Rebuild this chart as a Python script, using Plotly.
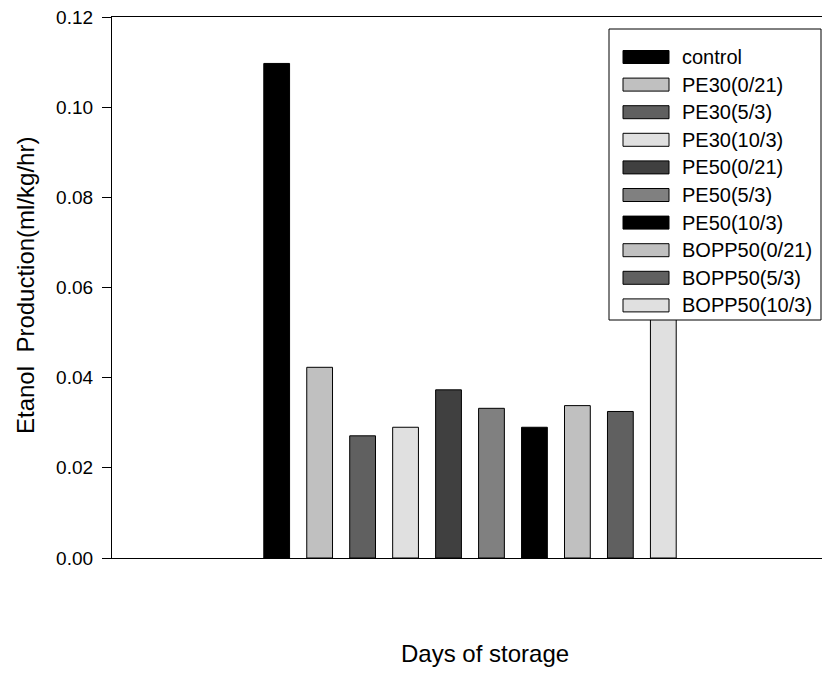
import plotly.graph_objects as go

# Ethanol production per packaging treatment (single storage group)
treatments = ["control", "PE30(0/21)", "PE30(5/3)", "PE30(10/3)", "PE50(0/21)",
              "PE50(5/3)", "PE50(10/3)", "BOPP50(0/21)", "BOPP50(5/3)", "BOPP50(10/3)"]
ethanol = [0.1097, 0.0423, 0.0271, 0.0290, 0.0373, 0.0332, 0.0290, 0.0338, 0.0325, 0.0620]
fills = ["#000000", "#c0c0c0", "#606060", "#e0e0e0", "#404040",
         "#808080", "#000000", "#c0c0c0", "#606060", "#e0e0e0"]
group = ["storage"]

y_ticks = [0.00, 0.02, 0.04, 0.06, 0.08, 0.10, 0.12]

FONT = "Arial, Liberation Sans, sans-serif"
W, H = 822, 673
ML, MR, MT, MB = 112, 0, 17, 115
PW, PH = W - ML - MR, H - MT - MB


def px_x(p):
    return (p - ML) / PW


def px_y(p):
    return (H - MB - p) / PH


fig = go.Figure()
for name, val, col in zip(treatments, ethanol, fills):
    fig.add_trace(go.Bar(
        x=group, y=[val], name=name,
        marker=dict(color=col, line=dict(color="#000000", width=1)),
        showlegend=False,
    ))

# Boxed key in the upper right, drawn over the bars
fig.add_shape(type="rect", xref="paper", yref="paper",
              x0=px_x(609), x1=px_x(821), y0=px_y(320), y1=px_y(29),
              fillcolor="white", line=dict(color="#000000", width=1), layer="above")
row0, row_step, sw_h = 57.0, 27.6, 13
for i, (name, col) in enumerate(zip(treatments, fills)):
    cy = row0 + i * row_step
    fig.add_shape(type="rect", xref="paper", yref="paper",
                  x0=px_x(623), x1=px_x(669), y0=px_y(cy + sw_h / 2), y1=px_y(cy - sw_h / 2),
                  fillcolor=col, line=dict(color="#000000", width=1), layer="above")
    fig.add_annotation(xref="paper", yref="paper", x=px_x(680), y=px_y(cy),
                       text=name, showarrow=False, xanchor="left", yanchor="middle",
                       font=dict(family=FONT, size=20, color="#000000"))

# Axis titles
fig.add_annotation(xref="paper", yref="paper", x=px_x(485), y=px_y(653),
                   text="Days of storage", showarrow=False, xanchor="center", yanchor="middle",
                   font=dict(family=FONT, size=24, color="#000000"))
fig.add_annotation(xref="paper", yref="paper", x=px_x(25), y=px_y(286),
                   text="Etanol  Production(ml/kg/hr)", showarrow=False, textangle=-90,
                   xanchor="center", yanchor="middle",
                   font=dict(family=FONT, size=24, color="#000000"))

fig.update_layout(
    width=W, height=H,
    margin=dict(l=ML, r=MR, t=MT, b=MB, pad=0),
    paper_bgcolor="white", plot_bgcolor="white",
    barmode="group", bargap=0.4, bargroupgap=0.4,
    font=dict(family=FONT, color="#000000"),
    showlegend=False,
)
fig.update_xaxes(
    type="category", range=[-0.5, -0.5 + PW / 716.0],
    showticklabels=False, ticks="", showgrid=False, zeroline=False,
    showline=True, linecolor="#000000", linewidth=1.3, mirror=True,
)
fig.update_yaxes(
    range=[0, 0.12], tickvals=y_ticks, tickformat=".2f",
    ticks="outside", ticklen=9, tickwidth=1.3, tickcolor="#000000",
    tickfont=dict(family=FONT, size=19, color="#000000"),
    ticklabelstandoff=5,
    showgrid=False, zeroline=False,
    showline=True, linecolor="#000000", linewidth=1.3, mirror=False,
)

fig.write_html("out.html")
